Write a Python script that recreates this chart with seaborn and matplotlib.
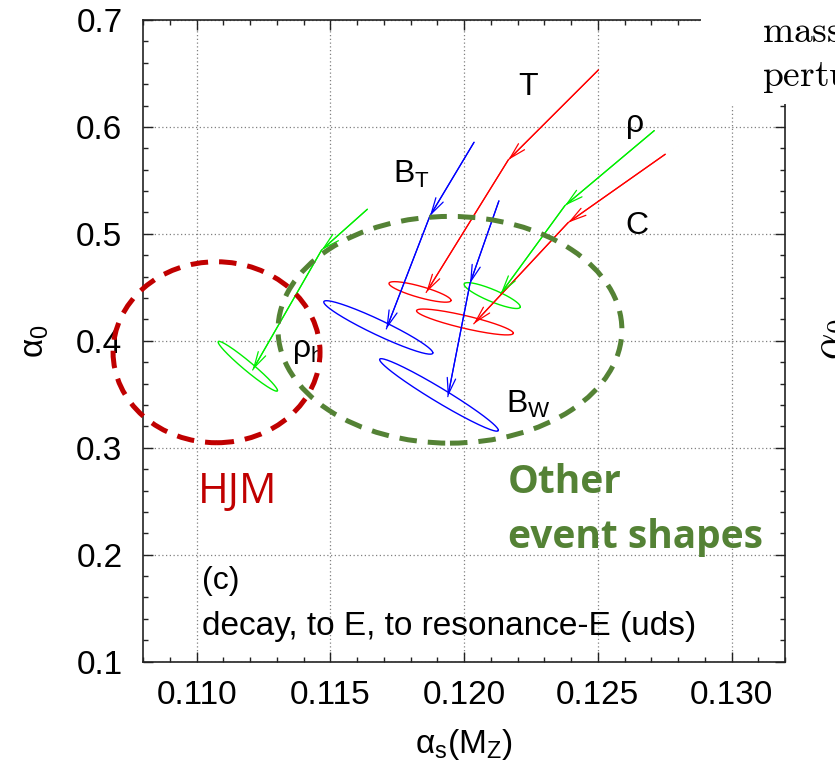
import numpy as np
import pandas as pd
import seaborn as sns
import matplotlib.pyplot as plt
from matplotlib.patches import Ellipse, Rectangle
from matplotlib.ticker import MultipleLocator, FormatStrFormatter

# fit contours: centre (alpha_s, alpha_0), sigmas and correlation
fit_names = ['rho_h', 'B_T', 'B_W', 'T', 'C', 'rho']
fit_colors = ['#00ee00', '#0000ff', '#0000ff', '#ff0000', '#ff0000', '#00ee00']
fit_as = [0.11191, 0.11679, 0.11906, 0.11835, 0.12003, 0.12105]
fit_a0 = [0.3762, 0.4125, 0.3494, 0.4457, 0.4176, 0.4423]
fit_sig_as = [0.00111, 0.00204, 0.00222, 0.00116, 0.00181, 0.00105]
fit_sig_a0 = [0.0233, 0.0250, 0.0339, 0.0096, 0.0121, 0.0121]
fit_corr = [-0.971, -0.950, -0.974, -0.823, -0.864, -0.865]

# paths of the fit results (start -> intermediate -> final)
path_as = [[0.11638, 0.11467, 0.11209],
           [0.12037, 0.11872, 0.11709],
           [0.12130, 0.12022, 0.11939],
           [0.12502, 0.12165, 0.11858],
           [0.12752, 0.12389, 0.12036],
           [0.12711, 0.12377, 0.12137]]
path_a0 = [[0.5230, 0.4849, 0.3727],
           [0.5856, 0.5167, 0.4111],
           [0.5308, 0.4536, 0.3478],
           [0.6532, 0.5691, 0.4452],
           [0.5744, 0.5105, 0.4159],
           [0.5965, 0.5264, 0.4442]]

# highlighted regions: centre and half widths
hjm_region = [0.11074, 0.3893, 0.00387, 0.0846]
other_region = [0.11947, 0.4103, 0.00643, 0.1060]

sns.set_style('ticks')
plt.rcParams['font.family'] = ['Liberation Sans', 'DejaVu Sans']
plt.rcParams['mathtext.fontset'] = 'custom'
plt.rcParams['mathtext.rm'] = 'Liberation Sans'
plt.rcParams['mathtext.it'] = 'Liberation Sans:italic'
for k in ['text.color', 'axes.labelcolor', 'xtick.color', 'ytick.color']:
    plt.rcParams[k] = 'black'

fig = plt.figure(figsize=(8.35, 7.7), dpi=100)
ax = fig.add_axes([0.1716, 0.1407, 0.7685, 0.8334])

# ellipses
t = np.linspace(0, 2 * np.pi, 300)
for i in range(len(fit_names)):
    ex = fit_as[i] + fit_sig_as[i] * np.cos(t)
    ey = fit_a0[i] + fit_sig_a0[i] * (fit_corr[i] * np.cos(t) + np.sqrt(1 - fit_corr[i] ** 2) * np.sin(t))
    sns.lineplot(x=ex, y=ey, sort=False, estimator=None, color=fit_colors[i], lw=1.0, ax=ax)

# paths with arrow heads
for i in range(len(fit_names)):
    df = pd.DataFrame({'as': path_as[i], 'a0': path_a0[i]})
    sns.lineplot(data=df, x='as', y='a0', sort=False, estimator=None, color=fit_colors[i], lw=0.9, ax=ax)
    for k in range(2):
        ax.annotate('', xy=(path_as[i][k + 1], path_a0[i][k + 1]), xytext=(path_as[i][k], path_a0[i][k]),
                    arrowprops=dict(arrowstyle='->,head_length=0.65,head_width=0.17', color=fit_colors[i],
                                    lw=0.9, shrinkA=0, shrinkB=0, mutation_scale=18))

ax.add_patch(Ellipse((hjm_region[0], hjm_region[1]), 2 * hjm_region[2], 2 * hjm_region[3], fill=False,
                     ec='#c00000', lw=3.6, ls=(0, (3.5, 2.2)), zorder=5, clip_on=False))
ax.add_patch(Ellipse((other_region[0], other_region[1]), 2 * other_region[2], 2 * other_region[3], fill=False,
                     ec='#548235', lw=3.6, ls=(0, (3.5, 2.2)), zorder=6))

# labels in the plot
lab = dict(fontsize=23, color='black')
ax.text(0.12202, 0.6299, 'T', **lab)
ax.text(0.12604, 0.5956, 'ρ', **lab)
ax.text(0.12604, 0.4999, 'C', **lab)
ax.text(0.11734, 0.5473, r'B$_\mathrm{T}$', **lab)
ax.text(0.12156, 0.3323, r'B$_\mathrm{W}$', **lab)
ax.text(0.11355, 0.3852, r'ρ$_\mathrm{h}$', **lab)
ax.text(0.11018, 0.1677, '(c)', fontsize=23)
ax.text(0.11018, 0.1250, 'decay, to E, to resonance-E (uds)', fontsize=24)

ax.text(0.11006, 0.2481, 'HJM', fontsize=30, color='#c00000', family='Open Sans')
ax.text(0.12164, 0.2575, 'Other', fontsize=28, color='#548235', family='Open Sans', weight='bold')
ax.text(0.12164, 0.2060, 'event shapes', fontsize=28, color='#548235', family='Open Sans', weight='bold')

ax.set_xlim(0.108, 0.132)
ax.set_ylim(0.1, 0.7)
ax.xaxis.set_major_locator(MultipleLocator(0.005))
ax.xaxis.set_minor_locator(MultipleLocator(0.001))
ax.yaxis.set_major_locator(MultipleLocator(0.1))
ax.yaxis.set_minor_locator(MultipleLocator(0.02))
ax.xaxis.set_major_formatter(FormatStrFormatter('%.3f'))
ax.yaxis.set_major_formatter(FormatStrFormatter('%.1f'))
ax.tick_params(which='both', direction='in', top=True, right=True, width=1.0, color='#222222')
ax.tick_params(which='major', length=7.2, labelsize=24)
ax.tick_params(which='minor', length=3.6)
ax.tick_params(axis='x', pad=13)
ax.tick_params(axis='y', pad=15)
for s in ax.spines.values():
    s.set_linewidth(1.2)
    s.set_color('#222222')
ax.grid(True, which='major', ls=(0, (1, 2)), color='#808080', lw=0.9)
ax.set_axisbelow(True)

ax.set_xlabel(r'α$_\mathrm{s}$(M$_\mathrm{Z}$)', fontsize=24, labelpad=12)
ax.set_ylabel(r'α$_\mathrm{0}$', fontsize=24, labelpad=18)

# corner of the neighbouring panel overlapping this one
fig.add_artist(Rectangle((701 / 835, 1 - 104 / 770), 1, 1, transform=fig.transFigure,
                         facecolor='white', edgecolor='none', zorder=10))
fig.text(762 / 835, 1 - 42 / 770, r'$\mathrm{mass}$', math_fontfamily='cm', fontsize=27, zorder=11)
fig.text(762 / 835, 1 - 86 / 770, r'$\mathrm{pertu}$', math_fontfamily='cm', fontsize=27, zorder=11)
fig.text(812 / 835, 1 - 360 / 770, r'$\alpha_0$', math_fontfamily='cm', fontsize=30, rotation=90,
         ha='left', va='bottom')

fig.savefig('out.png', dpi=100)
